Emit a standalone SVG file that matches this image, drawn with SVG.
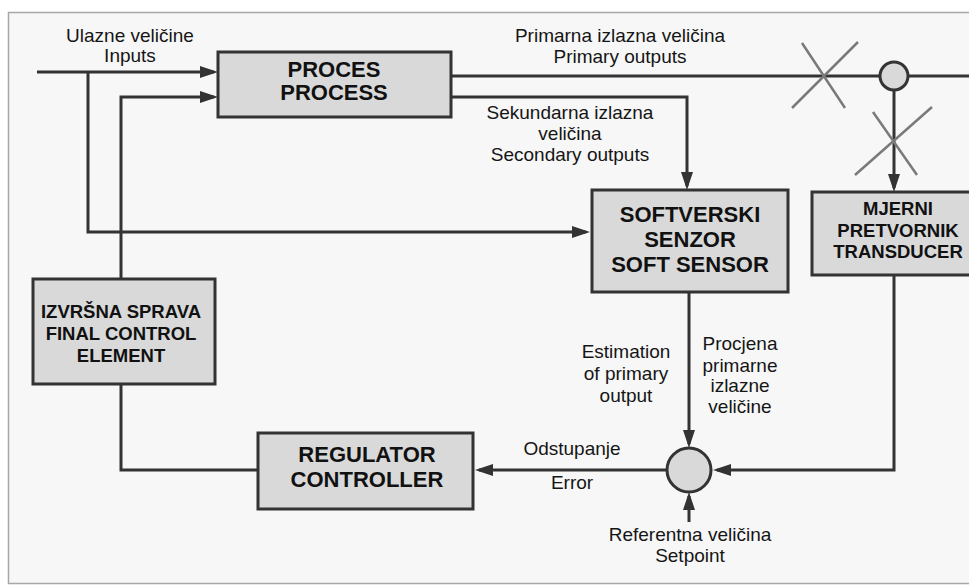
<svg xmlns="http://www.w3.org/2000/svg" width="969" height="585" viewBox="0 0 969 585">
  <style>
    .box { fill: #d9d9d9; stroke: #333; stroke-width: 3; }
    .wire { fill: none; stroke: #333; stroke-width: 3; }
    .cross { stroke: #7a7a7a; stroke-width: 2.5; fill: none; }
    .lbl { font-family: "Liberation Sans", Arial, sans-serif; font-size: 19px; fill: #151515; text-anchor: middle; }
    .title { font-family: "Liberation Sans", Arial, sans-serif; font-size: 22px; font-weight: bold; fill: #111; text-anchor: middle; }
    .title.sm { font-size: 18.5px; }
  </style>
  <defs>
    <marker id="arrow" viewBox="0 0 18 12" refX="14" refY="6" markerWidth="18" markerHeight="12" markerUnits="userSpaceOnUse" orient="auto">
      <path d="M0,0 L18,6 L0,12 z" fill="#333"/>
    </marker>
  </defs>

  <!-- page frame -->
  <rect x="0" y="0" width="969" height="585" fill="#ffffff"/>
  <rect x="8.5" y="12.5" width="990" height="571" fill="#f7f7f7" stroke="#a8a8a8" stroke-width="1.5"/>

  <!-- connectors -->
  <g id="connectors">
    <path class="wire" d="M37,72 H214" marker-end="url(#arrow)"/>
    <path class="wire" d="M88,72 V232 H586" marker-end="url(#arrow)"/>
    <path class="wire" d="M121,279 V97 H214" marker-end="url(#arrow)"/>
    <path class="wire" d="M451,97 H687 V186" marker-end="url(#arrow)"/>
    <path class="wire" d="M451,76 H880"/>
    <path class="wire" d="M908,76 H969"/>
    <path class="wire" d="M894,90 V188" marker-end="url(#arrow)"/>
    <path class="wire" d="M689,292 V444" marker-end="url(#arrow)"/>
    <path class="wire" d="M894,275 V470 H717" marker-end="url(#arrow)"/>
    <path class="wire" d="M667,470 H479" marker-end="url(#arrow)"/>
    <path class="wire" d="M689,522 V496" marker-end="url(#arrow)"/>
    <path class="wire" d="M121,384 V470 H258"/>
    <!-- crossed-out measurement paths -->
    <path class="cross" d="M792,108 L858,42 M802,43 L845,108"/>
    <path class="cross" d="M855,175 L932,107 M873,112 L917,175"/>
  </g>

  <!-- take-off point on the primary output -->
  <g id="tap">
    <circle cx="894" cy="76" r="14" class="box"/>
  </g>

  <!-- summing junction -->
  <g id="sum">
    <circle cx="689" cy="470" r="22" class="box"/>
  </g>

  <g id="process">
    <rect x="218" y="52" width="233" height="65" class="box"/>
    <text class="title" x="334" y="77">PROCES</text>
    <text class="title" x="334" y="100">PROCESS</text>
  </g>

  <g id="soft-sensor">
    <rect x="592" y="190" width="196" height="102" class="box"/>
    <text class="title" x="690" y="222">SOFTVERSKI</text>
    <text class="title" x="690" y="247">SENZOR</text>
    <text class="title" x="690" y="272">SOFT SENSOR</text>
  </g>

  <g id="transducer">
    <rect x="812" y="192" width="173" height="83" class="box"/>
    <text class="title sm" x="898" y="215">MJERNI</text>
    <text class="title sm" x="898" y="237">PRETVORNIK</text>
    <text class="title sm" x="898" y="258">TRANSDUCER</text>
  </g>

  <g id="final-control-element">
    <rect x="33" y="279" width="182" height="105" class="box"/>
    <text class="title sm" x="121" y="318">IZVRŠNA SPRAVA</text>
    <text class="title sm" x="121" y="340">FINAL CONTROL</text>
    <text class="title sm" x="121" y="362">ELEMENT</text>
  </g>

  <g id="controller">
    <rect x="258" y="433" width="215" height="76" class="box"/>
    <text class="title" x="367" y="462">REGULATOR</text>
    <text class="title" x="367" y="487">CONTROLLER</text>
  </g>

  <!-- signal labels -->
  <g id="labels">
    <text class="lbl" x="130" y="42">Ulazne veličine</text>
    <text class="lbl" x="130" y="62">Inputs</text>
    <text class="lbl" x="620" y="42">Primarna izlazna veličina</text>
    <text class="lbl" x="620" y="63">Primary outputs</text>
    <text class="lbl" x="570" y="119">Sekundarna izlazna</text>
    <text class="lbl" x="570" y="140">veličina</text>
    <text class="lbl" x="570" y="161">Secondary outputs</text>
    <text class="lbl" x="626" y="358">Estimation</text>
    <text class="lbl" x="626" y="380">of primary</text>
    <text class="lbl" x="626" y="402">output</text>
    <text class="lbl" x="740" y="350">Procjena</text>
    <text class="lbl" x="740" y="372">primarne</text>
    <text class="lbl" x="740" y="392">izlazne</text>
    <text class="lbl" x="740" y="413">veličine</text>
    <text class="lbl" x="572" y="455">Odstupanje</text>
    <text class="lbl" x="572" y="489">Error</text>
    <text class="lbl" x="690" y="541">Referentna veličina</text>
    <text class="lbl" x="690" y="562">Setpoint</text>
  </g>
</svg>
